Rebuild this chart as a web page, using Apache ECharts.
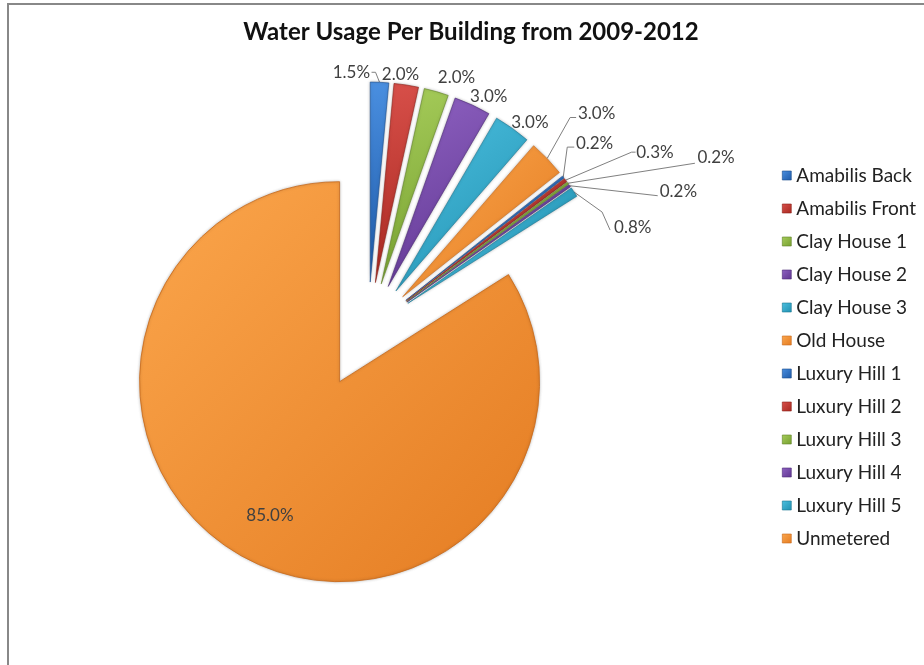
<!DOCTYPE html>
<html>
<head>
<meta charset="utf-8">
<script src="https://cdn.jsdelivr.net/npm/echarts@6/dist/echarts.min.js"></script>
<style>
html,body{margin:0;padding:0;background:#fff;}
#chart{width:924px;height:665px;}
</style>
</head>
<body>
<div id="chart"></div>
<script>
const titleText = 'Water Usage Per Building from 2009-2012';
const categories = ['Amabilis Back','Amabilis Front','Clay House 1','Clay House 2','Clay House 3','Old House','Luxury Hill 1','Luxury Hill 2','Luxury Hill 3','Luxury Hill 4','Luxury Hill 5','Unmetered'];
const values = [1.5, 2.0, 2.0, 3.0, 3.0, 3.0, 0.2, 0.3, 0.2, 0.2, 0.8, 85.0];

// styling
const lightColors = ['#4a8fe0','#d8504a','#a6cc5a','#8f62c2','#4cc0e0','#fba64c','#4a8fe0','#d8504a','#a6cc5a','#8f62c2','#4cc0e0','#fba64c'];
const darkColors  = ['#1e5aa8','#a82820','#76a030','#5e3590','#2190b0','#e47c22','#1e5aa8','#a82820','#76a030','#5e3590','#2190b0','#e47c22'];
const borderColors = ['#1a4c8c','#8c2018','#5f8226','#4c2a76','#1a7592','#c8691c','#1a4c8c','#8c2018','#5f8226','#4c2a76','#1a7592','#c8691c'];
// label nudges (style): align, leader length, padding [t,r,b,l], line bends relative to slice edge point, blank lines above
const labelPlacement = [
  {align:'right',  len:10, pad:[0,10,0,0],  line:[[-4,-10],[-8,-10]]},
  {align:'center', len:11, pad:[0,15,0,0]},
  {align:'center', len:15, pad:[0,0,0,32]},
  {align:'center', len:9,  pad:[0,0,0,25]},
  {align:'center', len:7,  pad:[0,0,0,27]},
  {align:'center', len:65, pad:[0,0,0,5],   line:[[23,-41],[29,-41]]},
  {align:'center', len:55, pad:[0,24,0,0],  line:[[4,-30],[11,-30]]},
  {align:'left',   len:46, pad:[0,0,0,34],  line:[[66,-28],[70,-28]]},
  {align:'left',   len:44, pad:[0,0,0,94],  line:[[127,-20],[127,-20]]},
  {align:'left',   len:0,  pad:[0,0,0,90],  line:[[88,10],[88,10]], breaks:1, lh:12},
  {align:'left',   len:0,  pad:[0,0,0,40],  line:[[28,20],[36,38]], breaks:2, lh:35},
  {align:'center', len:0,  pad:[0,40,0,0],  breaks:2, lh:44}
];
const SMALL_OFFSET = 48, BIG_OFFSET = 59;

function grad(i){
  return new echarts.graphic.LinearGradient(0,0,1,1,[
    {offset:0,color:lightColors[i]},
    {offset:1,color:darkColors[i]}
  ]);
}
const lastIdx = categories.length - 1;
const fontFam = 'Lato, "Open Sans", sans-serif';
const hidden = {color:'rgba(0,0,0,0)',borderWidth:0,shadowBlur:0};
function labelOpt(i){
  const pl = labelPlacement[i];
  const o = {padding:pl.pad};
  if(pl.lh) o.lineHeight = pl.lh;
  return o;
}
function fmt(p){
  const pl = labelPlacement[p.dataIndex];
  return '\n'.repeat(pl.breaks||0) + p.value.toFixed(1) + '%';
}

const smallData = categories.map((n,i)=>{
  if(i===lastIdx){
    return {name:n,value:values[i],itemStyle:hidden,label:{show:false},labelLine:{show:false}};
  }
  return {name:n,value:values[i],selected:true,
    itemStyle:{color:grad(i),borderColor:borderColors[i],borderWidth:0.6},
    label:labelOpt(i),
    labelLine:{show: !!labelPlacement[i].line, length:labelPlacement[i].len, length2:0}};
});
const bigData = categories.map((n,i)=>{
  if(i===lastIdx){
    return {name:n,value:values[i],selected:true,
      itemStyle:{color:grad(i),borderColor:borderColors[i],borderWidth:0.8},
      label:labelOpt(i)};
  }
  return {name:n,value:values[i],itemStyle:hidden,label:{show:false},labelLine:{show:false}};
});

const chart = echarts.init(document.getElementById('chart'));
chart.setOption({
  animation:false,
  backgroundColor:'#fff',
  title:{text:titleText,left:466,top:15,textAlign:'center',
    textStyle:{fontFamily:fontFam,fontWeight:'bold',fontSize:24,color:'#111'}},
  legend:{
    orient:'vertical',left:777,top:161,itemWidth:9,itemHeight:9,itemGap:14,
    icon:'rect',
    textStyle:{fontFamily:fontFam,fontSize:19,color:'#222'},
    data:categories.map((n,i)=>({name:n,itemStyle:{color:grad(i),borderColor:borderColors[i],borderWidth:0.6,opacity:1}}))
  },
  graphic:[{type:'polyline',shape:{points:[[8,665],[8,4],[924,4]]},style:{stroke:'#888',lineWidth:2,fill:null},silent:true}],
  series:[
    {
      type:'pie',center:[368,330],radius:200,startAngle:90,clockwise:true,
      selectedMode:'multiple',selectedOffset:SMALL_OFFSET,
      emphasis:{disabled:true},
      avoidLabelOverlap:false,
      itemStyle:{shadowBlur:3,shadowColor:'rgba(0,0,0,0.25)'},
      label:{show:true,position:'outside',distanceToLabelLine:0,formatter:fmt,
        fontFamily:fontFam,fontSize:17,color:'#404040'},
      labelLine:{show:true,length:0,length2:0,lineStyle:{color:'#808080',width:1}},
      labelLayout:function(params){
        if(params.dataIndex===lastIdx) return {};
        const pl = labelPlacement[params.dataIndex];
        const pts = params.labelLinePoints;
        const out = {align:pl.align, verticalAlign:'middle'};
        if(pl.line && pts){
          const P0 = pts[0];
          out.labelLinePoints = [[P0[0],P0[1]],[P0[0]+pl.line[0][0],P0[1]+pl.line[0][1]],[P0[0]+pl.line[1][0],P0[1]+pl.line[1][1]]];
        }
        return out;
      },
      data:smallData
    },
    {
      type:'pie',center:[368,330],radius:200,startAngle:90,clockwise:true,
      selectedMode:'multiple',selectedOffset:BIG_OFFSET,
      emphasis:{disabled:true},
      itemStyle:{shadowBlur:3,shadowColor:'rgba(0,0,0,0.25)'},
      label:{show:true,position:'inside',formatter:fmt,
        fontFamily:fontFam,fontSize:17,color:'#404040'},
      labelLine:{show:false},
      data:bigData
    }
  ]
});
</script>
</body>
</html>
